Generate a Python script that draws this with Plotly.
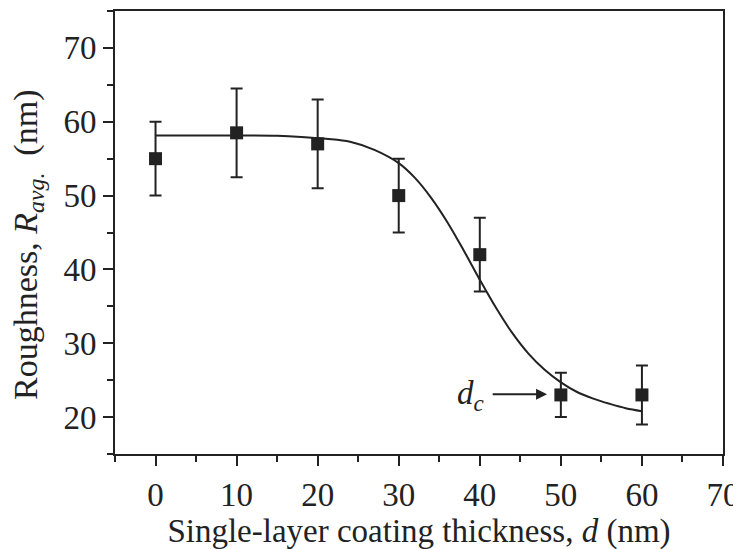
import plotly.graph_objects as go

# Measured data
thickness = [0, 10, 20, 30, 40, 50, 60]
roughness = [55, 58.5, 57, 50, 42, 23, 23]
err_plus = [5, 6, 6, 5, 5, 3, 4]
err_minus = [5, 6, 6, 5, 5, 3, 4]

# Fitted curve
fit_x = [0, 5, 10, 15, 18, 21, 24, 27, 30, 32, 34, 36, 38, 40, 42, 44, 46, 48, 50, 52, 54, 56, 58, 60]
fit_y = [58.15, 58.15, 58.15, 58.1, 57.95, 57.7, 57.3, 56.2, 54.4, 52.4, 49.7, 46.4, 42.6, 38.6,
         34.8, 31.4, 28.6, 26.4, 24.7, 23.4, 22.5, 21.8, 21.2, 20.8]

x_ticks = [0, 10, 20, 30, 40, 50, 60, 70]
y_ticks = [20, 30, 40, 50, 60, 70]

ink = "#222222"
font_family = "Liberation Serif"

fig = go.Figure()
fig.add_trace(go.Scatter(
    x=fit_x, y=fit_y, mode="lines",
    line=dict(color=ink, width=2, shape="spline", smoothing=1.0),
    showlegend=False, hoverinfo="skip"))
fig.add_trace(go.Scatter(
    x=thickness, y=roughness, mode="markers",
    marker=dict(symbol="square", size=13, color=ink),
    error_y=dict(type="data", symmetric=False, array=err_plus, arrayminus=err_minus,
                 color=ink, thickness=2, width=6),
    showlegend=False))

# d_c annotation
fig.add_annotation(x=48.3, y=23.1, ax=41.4, ay=23.1, axref="x", ayref="y", xref="x", yref="y",
                   text="", showarrow=True, arrowhead=2, arrowsize=1.1, arrowwidth=2,
                   arrowcolor=ink)
fig.add_annotation(x=38.8, y=22.9, xref="x", yref="y",
                   text="<i>d</i><sub><i>c</i></sub>", showarrow=False,
                   font=dict(family=font_family, size=33, color=ink))

# y-axis title
fig.add_annotation(x=-0.143, y=0.472, xref="paper", yref="paper",
                   text="Roughness, <i>R</i><sub><i>avg.</i></sub>  (nm)", textangle=-90,
                   showarrow=False, xanchor="center", yanchor="middle",
                   font=dict(family=font_family, size=34, color=ink))

axis_common = dict(
    showgrid=False, zeroline=False, showline=True, linecolor=ink, linewidth=2,
    mirror=True, ticks="outside", ticklen=10, tickwidth=2, tickcolor=ink,
    tickfont=dict(family=font_family, size=33, color=ink),
    minor=dict(ticks="outside", ticklen=6, tickwidth=2, tickcolor=ink, dtick=5),
    automargin=False,
)

fig.update_xaxes(range=[-5, 70], tickvals=x_ticks,
                 title=dict(text="Single-layer coating thickness, <i>d</i> (nm)",
                            font=dict(family=font_family, size=33, color=ink), standoff=6),
                 **axis_common)
fig.update_yaxes(range=[15, 75], tickvals=y_ticks, **axis_common)

# The page body adds an 8px offset, so margins are compensated accordingly
fig.update_layout(
    width=741, height=549,
    margin=dict(l=107, r=26, t=3, b=103),
    plot_bgcolor="white", paper_bgcolor="white",
    font=dict(family=font_family, color=ink),
)

fig.write_html("out.html")
